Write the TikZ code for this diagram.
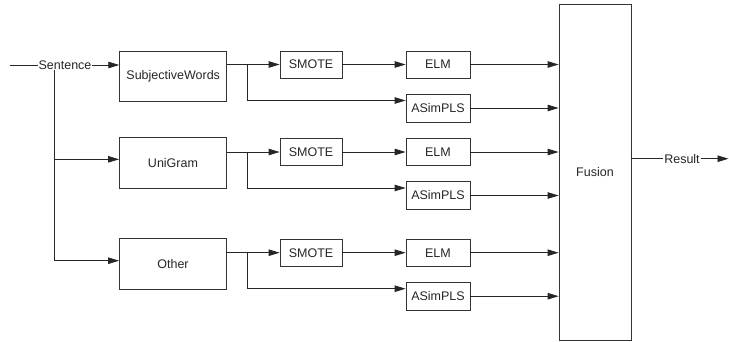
\documentclass[tikz,border=0pt]{standalone}
\usepackage{fontspec}
\setmainfont{Liberation Sans}
\usetikzlibrary{arrows.meta,calc}
\begin{document}
\begin{tikzpicture}[x=1pt,y=-1pt,
  box/.style={draw=black!80, line width=0.8pt, inner sep=0pt, align=center,
    font=\fontsize{12.5}{15}\selectfont, text=black!85},
  lbl/.style={fill=white, inner sep=0.6pt, font=\fontsize{12.5}{15}\selectfont, text=black!85},
  ln/.style={draw=black!85, line width=0.8pt},
  arr/.style={ln, -{Triangle[length=11pt,width=6.5pt]}}]
\useasboundingbox (0,0) rectangle (729,341);
% feature boxes
\node[box, minimum width=107pt, minimum height=50pt] (f1) at (173.2,76) {SubjectiveWords};
\node[box, minimum width=107pt, minimum height=51pt] (f2) at (173,162.8) {UniGram};
\node[box, minimum width=107pt, minimum height=51pt] (f3) at (173,264.2) {Other};
% fusion
\node[box, minimum width=72pt, minimum height=336pt] (fus) at (595,172) {Fusion};
% rows
\foreach \i/\m in {1/64.5, 2/152, 3/252.7}{
  \node[box, minimum width=62pt, minimum height=27pt] (sm\i) at (311,\m) {SMOTE};
  \node[box, minimum width=64pt, minimum height=27pt] (elm\i) at (438,\m) {ELM};
  \node[box, minimum width=64pt, minimum height=28pt] (as\i) at (438,\m+43.5) {ASimPLS};
  \coordinate (br\i) at (247.5,\m);
  \coordinate (o\i) at ($(f\i.east |- br\i)$);
  \draw[ln] (o\i) -- (br\i);
  \draw[arr] (br\i) -- (sm\i.west);
  \draw[arr] (br\i) |- ($(as\i.west)+(0,-7.5)$);
  \draw[arr] (sm\i) -- (elm\i);
  \draw[arr] (elm\i) -- (elm\i -| fus.west);
  \draw[arr] (as\i) -- (as\i -| fus.west);
}
% input
\coordinate (in) at (10,65);
\coordinate (sp) at (54.3,65);
\draw[arr] (sp) |- ($(f2.west)+(0,-3.5)$);
\draw[arr] (sp) |- ($(f3.west)+(0,-3.5)$);
\node[lbl] (sent) at (65,65) {Sentence};
\draw[ln] (in) -- (sent.west);
\draw[arr] (sent.east) -- (f1.west |- sent);
% output
\coordinate (fo) at (fus.east |- 0,158.7);
\node[lbl] (res) at (682,158.7) {Result};
\coordinate (end) at (728.5,158.7);
\draw[ln] (fo) -- (res.west);
\draw[arr] (res.east) -- (end);
\end{tikzpicture}
\end{document}
